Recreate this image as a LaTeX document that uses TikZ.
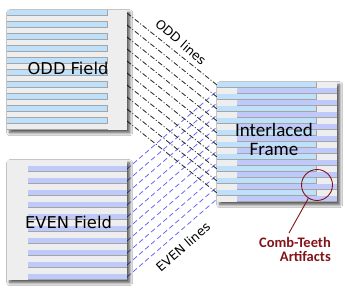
\documentclass[tikz,border=0pt]{standalone}
\usepackage{fontspec}
\setmainfont{DejaVu Sans}
\newfontfamily\calib{Carlito}
\usetikzlibrary{shadows.blur}
\definecolor{boxgray}{RGB}{238,238,238}
\definecolor{oddblue}{RGB}{190,224,250}
\definecolor{evenblue}{RGB}{192,202,250}
\definecolor{rulegray}{RGB}{165,165,165}
\definecolor{dashblue}{RGB}{105,105,250}
\definecolor{combred}{RGB}{130,20,25}
\begin{document}
\begin{tikzpicture}[x=1pt,y=-1pt,
  fieldbox/.style={fill=boxgray, inner sep=0pt, minimum size=120pt, anchor=north west,
    blur shadow={shadow xshift=2.5pt, shadow yshift=-2.5pt, shadow blur radius=3pt,
      shadow blur steps=8, shadow opacity=70}},
  oddline/.style={line width=0.8pt, black!85, dash pattern=on 5pt off 2pt on 1pt off 2pt},
  evenline/.style={line width=0.8pt, dashblue, dash pattern=on 5pt off 3pt},
  fieldlabel/.style={inner sep=0pt, font=\fontsize{16.3}{18}\selectfont},
  linelabel/.style={inner sep=0pt, font=\fontsize{12.5}{14}\selectfont}]
\useasboundingbox (0,0) rectangle (345,289);
\fill[white] (0,0) rectangle (345,289);
% connector end points
\foreach \m in {0,...,9}{
  \coordinate (os\m) at (127,{13+12*\m});
  \coordinate (of\m) at (217,{85+12*\m});
  \coordinate (es\m) at (127,{169+12*\m});
  \coordinate (ef\m) at (217,{91+12*\m});
}
\foreach \m in {0,...,9}{
  \draw[oddline] (os\m) -- (of\m);
  \draw[evenline] (es\m) -- (ef\m);
}
% boxes
\node[fieldbox] (odd) at (7,10) {};
\node[fieldbox] (even) at (7,160) {};
\node[fieldbox] (frame) at (217,82) {};
% ODD field stripes
\foreach \k in {0,2,...,18}{
  \fill[oddblue] (7,{10+6*\k}) rectangle (108,{15+6*\k});
  \fill[rulegray] (107,{10+6*\k}) rectangle (108,{15+6*\k});
}
\foreach \k in {0,...,19}{
  \fill[rulegray] (7,{15+6*\k}) rectangle (108,{16+6*\k});
}
% EVEN field stripes
\foreach \k in {1,3,...,19}{
  \fill[evenblue] (28,{160+6*\k}) rectangle (127,{165+6*\k});
  \fill[rulegray] (28,{165+6*\k}) rectangle (127,{166+6*\k});
}
% Interlaced frame stripes
\foreach \k in {0,2,...,18}{
  \fill[oddblue] (217,{82+6*\k}) rectangle (317,{87+6*\k});
  \fill[rulegray] (316,{82+6*\k}) rectangle (317,{87+6*\k});
  \fill[rulegray] (217,{87+6*\k}) rectangle (317,{88+6*\k});
}
\foreach \k in {1,3,...,19}{
  \fill[evenblue] (237,{82+6*\k}) rectangle (337,{87+6*\k});
  \fill[rulegray] (237,{87+6*\k}) rectangle (337,{88+6*\k});
}
% labels
\node[fieldlabel] (oddlab) at (68,68) {ODD Field};
\node[fieldlabel] (evenlab) at (68.5,222.5) {EVEN Field};
\node[inner sep=0pt, align=center, font=\calib\fontsize{19}{18.5}\selectfont] (framelab) at (274,139.5) {Interlaced\\Frame};
\node[linelabel, rotate=-41] (oddlines) at (181,42) {ODD lines};
\node[linelabel, rotate=41] (evenlines) at (183,247) {EVEN lines};
% comb teeth callout
\node[circle, draw=combred, line width=0.9pt, minimum size=31pt, inner sep=0pt] (circ) at (317,185) {};
\coordinate (tip) at (289,233);
\draw[combred, line width=0.9pt] (circ.237) -- (tip);
\node[inner sep=0pt, anchor=north east, align=right, text=combred,
  font=\calib\bfseries\fontsize{14.5}{13.5}\selectfont] (comb) at (331,237.5) {Comb-Teeth\\Artifacts};
\end{tikzpicture}
\end{document}
